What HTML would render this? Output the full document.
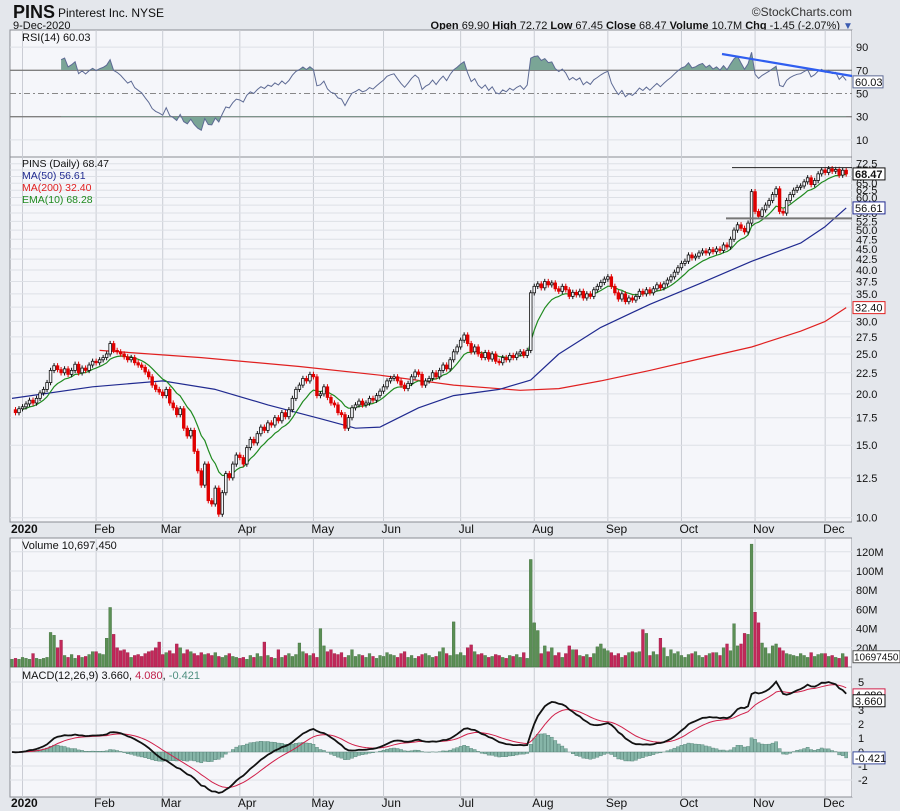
<!DOCTYPE html>
<html><head><meta charset="utf-8"><title>PINS chart</title>
<style>
html,body{margin:0;padding:0;background:#e4e7ec;}
svg{display:block;font-family:"Liberation Sans",sans-serif;}
</style></head>
<body>
<svg id="chart" width="900" height="811" viewBox="0 0 900 811" xmlns="http://www.w3.org/2000/svg">
<rect x="0" y="0" width="900" height="811" fill="#e4e7ec"/>
<text x="13" y="18" font-size="18" font-weight="bold" fill="#111">PINS</text>
<text x="58" y="17" font-size="12" fill="#111">Pinterest Inc. NYSE</text>
<text x="852" y="16" font-size="12" fill="#333" text-anchor="end">©StockCharts.com</text>
<text x="13" y="29" font-size="11" fill="#111">9-Dec-2020</text>
<text x="840" y="29" font-size="11" fill="#111" text-anchor="end"><tspan font-weight="bold">Open</tspan> 69.90 <tspan font-weight="bold">High</tspan> 72.72 <tspan font-weight="bold">Low</tspan> 67.45 <tspan font-weight="bold">Close</tspan> 68.47 <tspan font-weight="bold">Volume</tspan> 10.7M <tspan font-weight="bold">Chg</tspan> -1.45 (-2.07%)</text>
<text x="843" y="29" font-size="10" fill="#3a5bb0">▼</text>
<defs>
<clipPath id="cRsi"><rect x="10" y="30" width="842" height="127"/></clipPath>
<clipPath id="cRsiHi"><rect x="10" y="30" width="842" height="40"/></clipPath>
<clipPath id="cRsiLo"><rect x="10" y="116.3" width="842" height="40"/></clipPath>
<clipPath id="cPrice"><rect x="10" y="157" width="842" height="365"/></clipPath>
<clipPath id="cMacd"><rect x="10" y="667" width="842" height="130"/></clipPath>
</defs>
<g id="layer"></g>
</svg>
<script>
// ---- data ----
const closes = [18.3,18.0,18.4,
18.6,18.9,19.3,19.0,19.5,20.1,20.5,21.3,22.8,23.4,22.9,22.5,23.0,22.3,22.8,23.6,22.5,23.1,22.8,23.5,24.0,
23.8,24.2,24.5,25.0,26.5,25.5,25.3,25.0,24.6,24.2,24.5,23.8,23.5,23.2,22.6,22.0,21.0,20.5,20.2,
19.8,20.5,19.0,18.5,17.8,18.4,16.5,15.8,16.3,14.5,13.0,12.0,13.5,11.0,10.8,11.8,10.2,11.5,12.8,12.5,13.5,14.2,
14.0,13.5,14.8,15.5,15.2,16.0,16.6,16.3,17.0,16.8,17.5,17.2,18.0,17.6,18.3,19.5,20.5,21.0,21.8,21.5,22.3,
22.0,19.8,20.0,20.8,19.6,19.0,18.8,18.0,17.8,16.5,17.5,18.5,18.8,19.2,18.8,19.0,19.5,19.3,19.8,20.3,
20.8,21.5,21.8,22.0,21.5,21.0,20.6,21.2,22.0,22.6,22.3,21.0,21.5,21.8,22.5,22.0,22.8,23.5,23.0,24.2,25.3,26.0,
27.0,27.8,26.5,25.3,26.0,25.0,24.5,25.2,24.3,25.0,24.0,23.8,24.5,24.2,24.8,24.5,25.0,25.3,24.8,25.5,35.2,
36.5,37.0,36.2,37.5,36.8,37.2,36.0,35.5,36.5,35.8,34.5,35.3,34.8,35.5,34.2,35.0,34.5,35.8,36.5,37.3,38.0,
38.5,36.5,35.2,34.0,35.0,33.5,34.2,33.8,34.5,35.5,35.0,35.8,35.2,36.0,36.8,36.2,37.0,37.8,38.5,39.5,40.5,
41.5,42.0,43.5,42.8,43.2,44.0,44.5,44.0,44.8,44.3,45.0,44.6,46.0,45.5,47.5,50.0,51.5,50.5,49.5,52.0,62.0,
55.5,54.0,56.0,57.5,59.0,61.0,63.0,55.5,55.0,59.0,61.0,62.5,63.5,64.0,65.5,67.0,64.5,66.0,68.5,70.0,
69.0,70.5,69.5,70.2,68.0,69.9,68.47];
const volumes = [8,9,8,
10,9,8,14,9,8,9,10,36,33,20,28,12,10,13,9,12,10,11,13,16,
16,14,13,30,62,34,20,17,18,15,10,12,13,11,14,16,17,20,26,
13,15,17,14,24,20,14,18,16,14,12,15,13,14,12,15,11,10,12,14,11,10,
9,10,8,12,10,14,11,26,12,10,9,18,10,12,14,11,13,25,16,14,12,
14,10,40,22,16,18,14,13,15,10,12,18,11,13,12,10,14,11,9,12,
11,15,13,12,10,14,16,10,12,9,11,13,14,12,10,11,16,20,14,12,47,13,
15,12,20,23,16,13,14,12,10,11,13,12,10,9,12,11,13,10,15,9,112,
46,38,14,22,16,20,12,15,10,14,22,18,18,12,11,13,10,14,21,24,19,
17,15,12,14,10,12,15,16,15,16,39,35,12,16,13,30,20,11,18,14,16,
12,10,13,14,16,12,10,12,14,15,15,12,20,24,17,45,22,24,35,34,128,
57,46,25,20,14,22,24,20,17,14,13,12,11,14,12,10,15,11,13,14,
14,11,12,10,9,14,10.7];
const ma50Idx = [0,23,43,58,73,88,98,105,116,126,139,148,156,168,182,196,211,225,232,238];
const ma50Val = [19.5,20.8,21.5,20.5,18.8,17.4,16.5,16.6,18.5,19.8,20.5,21.6,25.0,29.0,33.0,37.0,42.0,46.5,51.0,56.61];
const ma200Idx = [25,54,82,105,126,145,156,168,182,196,211,225,232,238];
const ma200Val = [25.5,24.5,23.3,22.2,21.0,20.4,20.6,21.5,22.8,24.3,26.0,28.4,30.0,32.4];
const monthIdx = [3,24,43,65,86,106,128,149,170,191,212,232];
const monthLabels = ["2020","Feb","Mar","Apr","May","Jun","Jul","Aug","Sep","Oct","Nov","Dec"];
const priceTicks = [10,12.5,15,17.5,20,22.5,25,27.5,30,32.5,35,37.5,40,42.5,45,47.5,50,52.5,55,57.5,60,62.5,65,67.5,70,72.5];
const priceTickLabels = ["10.0","12.5","15.0","17.5","20.0","22.5","25.0","27.5","30.0","","35.0","37.5","40.0","42.5","45.0","47.5","50.0","52.5","55.0","","60.0","62.5","65.0","","70.0","72.5"];
const rsiTicks = [10,30,50,70,90];
const volTicks = [20,40,60,80,100,120];
const macdTicks = [-2,-1,0,1,2,3,5];

// ---- scales ----
const NS="http://www.w3.org/2000/svg";
const layer=document.getElementById('layer');
function X(i){return 12+i*3.505;}
function PY(v){return 517.7-(Math.log(v)-Math.log(10))*178.7;}
function RY(v){return 151.5-v*1.16;}
function VY(v){return 667-v*0.96;}
function MY(v){return 752-v*14;}
function mk(tag,attrs,parent){const e=document.createElementNS(NS,tag);for(const k in attrs)e.setAttribute(k,attrs[k]);(parent||layer).appendChild(e);return e;}
function txt(x,y,s,size,fill,anchor,parent){const e=mk('text',{x:x,y:y,'font-size':size,fill:fill,'text-anchor':anchor||'start'},parent);e.textContent=s;return e;}

// ---- derived indicators ----
const n=closes.length;
function ema(arr,p){const k=2/(p+1);const out=[];let e=arr[0];for(let i=0;i<arr.length;i++){e=i===0?arr[0]:arr[i]*k+e*(1-k);out.push(e);}return out;}
const ema10=ema(closes,10);
const ema12=ema(closes,12),ema26=ema(closes,26);
const macd=closes.map((c,i)=>ema12[i]-ema26[i]);
const signal=ema(macd,9);
const rsi=[];{let ag=0,al=0;for(let i=1;i<n;i++){const d=closes[i]-closes[i-1];const g=Math.max(d,0),l=Math.max(-d,0);if(i<=14){ag+=g/14;al+=l/14;}else{ag=(ag*13+g)/14;al=(al*13+l)/14;}rsi[i]=al===0?100:100-100/(1+ag/al);}}

// ---- panels ----
const panels=[["rsi-panel",30,127],["price-panel",157,365],["volume-panel",538,129],["macd-panel",667,130]];
panels.forEach(p=>{const r=mk('rect',{x:10,y:p[1],width:842,height:p[2],fill:'#f5f6fa',stroke:'#8a8d94','stroke-width':1});

});
const ax=mk('rect',{x:852,y:30,width:48,height:767,fill:'#e4e7ec'});



monthIdx.forEach((mi,k)=>{
  [[30,157],[157,522],[538,667],[667,797]].forEach(r=>{const l=mk('line',{x1:X(mi),x2:X(mi),y1:r[0],y2:r[1],stroke:'#c9ccd3','stroke-width':1});
  
  });
  [533,807].forEach(yy=>{const t=txt(k===0?11:X(mi)-2,yy,monthLabels[k],12,'#111','start');
  if(k===0)t.setAttribute('font-weight','bold');
  
  });
});

// ---- RSI ----
rsiTicks.forEach(v=>{const strong=(v===30||v===70);const l=mk('line',{x1:10,x2:852,y1:RY(v),y2:RY(v),stroke:strong?'#808080':(v===50?'#888':'#dde0e6'),'stroke-width':strong?1.3:1,'stroke-dasharray':v===50?'6,3,2,3':'none'});


const t=txt(856,RY(v)+4,String(v),11,'#111');

});
let rpts=[];for(let i=14;i<n;i++){rpts.push(X(i).toFixed(1)+','+RY(rsi[i]).toFixed(1));}
const rsiStart=X(14),rsiEnd=X(n-1);
const rHi=mk('polygon',{points:rsiStart+','+RY(70)+' '+rpts.join(' ')+' '+rsiEnd+','+RY(70),fill:'#7aa596','clip-path':'url(#cRsiHi)'});


const rLo=mk('polygon',{points:rsiStart+','+RY(30)+' '+rpts.join(' ')+' '+rsiEnd+','+RY(30),fill:'#7aa596','clip-path':'url(#cRsiLo)'});


const rl=mk('polyline',{points:rpts.join(' '),fill:'none',stroke:'#5d6a94','stroke-width':1,'clip-path':'url(#cRsi)'});


const tr=mk('line',{x1:722,y1:54,x2:852,y2:76,stroke:'#2f5ef0','stroke-width':2.2});


const rb=mk('rect',{x:853,y:RY(60.03)-6,width:30,height:12,fill:'#fff',stroke:'#5d6a94'});


const rbt=txt(855,RY(60.03)+4,'60.03',11,'#111');


const rlg=txt(22,41,'RSI(14) 60.03',11,'#111');



// ---- Price ----
priceTicks.forEach((v,k)=>{const l=mk('line',{x1:10,x2:852,y1:PY(v),y2:PY(v),stroke:'#dde0e6','stroke-width':1});


if(priceTickLabels[k]){const t=txt(856,PY(v)+4,priceTickLabels[k],11,'#111');

}});
function line(idx,val,color){const pts=idx.map((ii,k)=>X(ii).toFixed(1)+','+PY(val[k]).toFixed(1)).join(' ');return mk('polyline',{points:pts,fill:'none',stroke:color,'stroke-width':1.2,'stroke-linejoin':'round','clip-path':'url(#cPrice)'});}
const m200=line(ma200Idx,ma200Val,'#e02020');


const m50=line(ma50Idx,ma50Val,'#202a90');


const e10=line(closes.map((c,i)=>i).slice(3),ema10.slice(3),'#1f8a1f');


for(let i=1;i<n;i++){
  const o=closes[i-1],c=closes[i];const up=c>=o;const col=up?'#111':'#e00000';
  const hi=Math.max(o,c)*1.015,lo=Math.min(o,c)*0.985;
  const w=mk('line',{x1:X(i),x2:X(i),y1:PY(hi),y2:PY(lo),stroke:col,'stroke-width':1});
  
  
  const top=PY(Math.max(o,c)),bot=PY(Math.min(o,c));
  const b=mk('rect',{x:X(i)-1.3,y:top,width:2.6,height:Math.max(bot-top,0.8),fill:up?'#f5f6fa':col,stroke:col,'stroke-width':0.8});
  
  
}
const h1=mk('line',{x1:732,x2:852,y1:PY(70.9),y2:PY(70.9),stroke:'#222','stroke-width':1});


const h2=mk('line',{x1:726,x2:852,y1:PY(53.4),y2:PY(53.4),stroke:'#777','stroke-width':2});


[[68.47,'68.47','#111','close-price-box',true],[56.61,'56.61','#202a90','ma50-value-box',false],[32.40,'32.40','#e02020','ma200-value-box',false]].forEach(b=>{
  const r=mk('rect',{x:853,y:PY(b[0])-6,width:32,height:12,fill:'#fff',stroke:b[2],'stroke-width':1});
  
  
  const t=txt(855,PY(b[0])+4,b[1],11,'#111');
  if(b[4])t.setAttribute('font-weight','bold');
  
  });
[['PINS (Daily) 68.47','#111',167,'price-legend'],['MA(50) 56.61','#202a90',179,'ma50-legend'],['MA(200) 32.40','#e02020',191,'ma200-legend'],['EMA(10) 68.28','#1f8a1f',203,'ema10-legend']].forEach(g=>{
  const t=txt(22,g[2],g[0],10.5,g[1]);
  
  });

// ---- Volume ----
volTicks.forEach(v=>{const l=mk('line',{x1:10,x2:852,y1:VY(v),y2:VY(v),stroke:'#dde0e6','stroke-width':1});


const t=txt(856,VY(v)+4,v+'M',11,'#111');

});
for(let i=0;i<n;i++){const up=i===0||closes[i]>=closes[i-1];
  const b=mk('rect',{x:X(i)-1.4,y:VY(volumes[i]),width:2.8,height:volumes[i]*0.96,fill:up?'#5b8f55':'#c2285a',stroke:up?'#3f6e3b':'#99163f','stroke-width':0.4});
  
  }
const vb=mk('rect',{x:853,y:VY(10.7)-6,width:47,height:12,fill:'#fff',stroke:'#555'});


const vbt=txt(854,VY(10.7)+4,'10697450',10,'#111');


const vlg=txt(22,549,'Volume 10,697,450',11,'#111');



// ---- MACD ----
macdTicks.forEach(v=>{const l=mk('line',{x1:10,x2:852,y1:MY(v),y2:MY(v),stroke:'#dde0e6','stroke-width':1});


const t=txt(858,MY(v)+4,String(v),11,'#111');

});
for(let i=0;i<n;i++){const h=macd[i]-signal[i];
  const b=mk('rect',{x:X(i)-1.6,y:Math.min(MY(h),MY(0)),width:3.2,height:Math.abs(h*14),fill:'#86b5a8',stroke:'#4f7f72','stroke-width':0.4,'clip-path':'url(#cMacd)'});
  
  }
const sl=mk('polyline',{points:signal.map((v,i)=>X(i).toFixed(1)+','+MY(v).toFixed(1)).join(' '),fill:'none',stroke:'#d0204a','stroke-width':1,'clip-path':'url(#cMacd)'});


const ml=mk('polyline',{points:macd.map((v,i)=>X(i).toFixed(1)+','+MY(v).toFixed(1)).join(' '),fill:'none',stroke:'#111','stroke-width':1.8,'clip-path':'url(#cMacd)'});


[[4.08,'4.080','#d0204a','macd-signal-box'],[3.66,'3.660','#111','macd-value-box'],[-0.421,'-0.421','#3a4a9a','macd-histogram-box']].forEach(b=>{
  const r=mk('rect',{x:853,y:MY(b[0])-6,width:32,height:12,fill:'#fff',stroke:b[2]});
  
  
  const t=txt(855,MY(b[0])+4,b[1],11,'#111');
  
  });
const mlg=mk('text',{x:22,y:679,'font-size':11,fill:'#111'});


mlg.innerHTML='<tspan>MACD(12,26,9) 3.660, </tspan><tspan fill="#c0204a">4.080</tspan><tspan>, </tspan><tspan fill="#4f8f80">-0.421</tspan>';
</script>
</body></html>
